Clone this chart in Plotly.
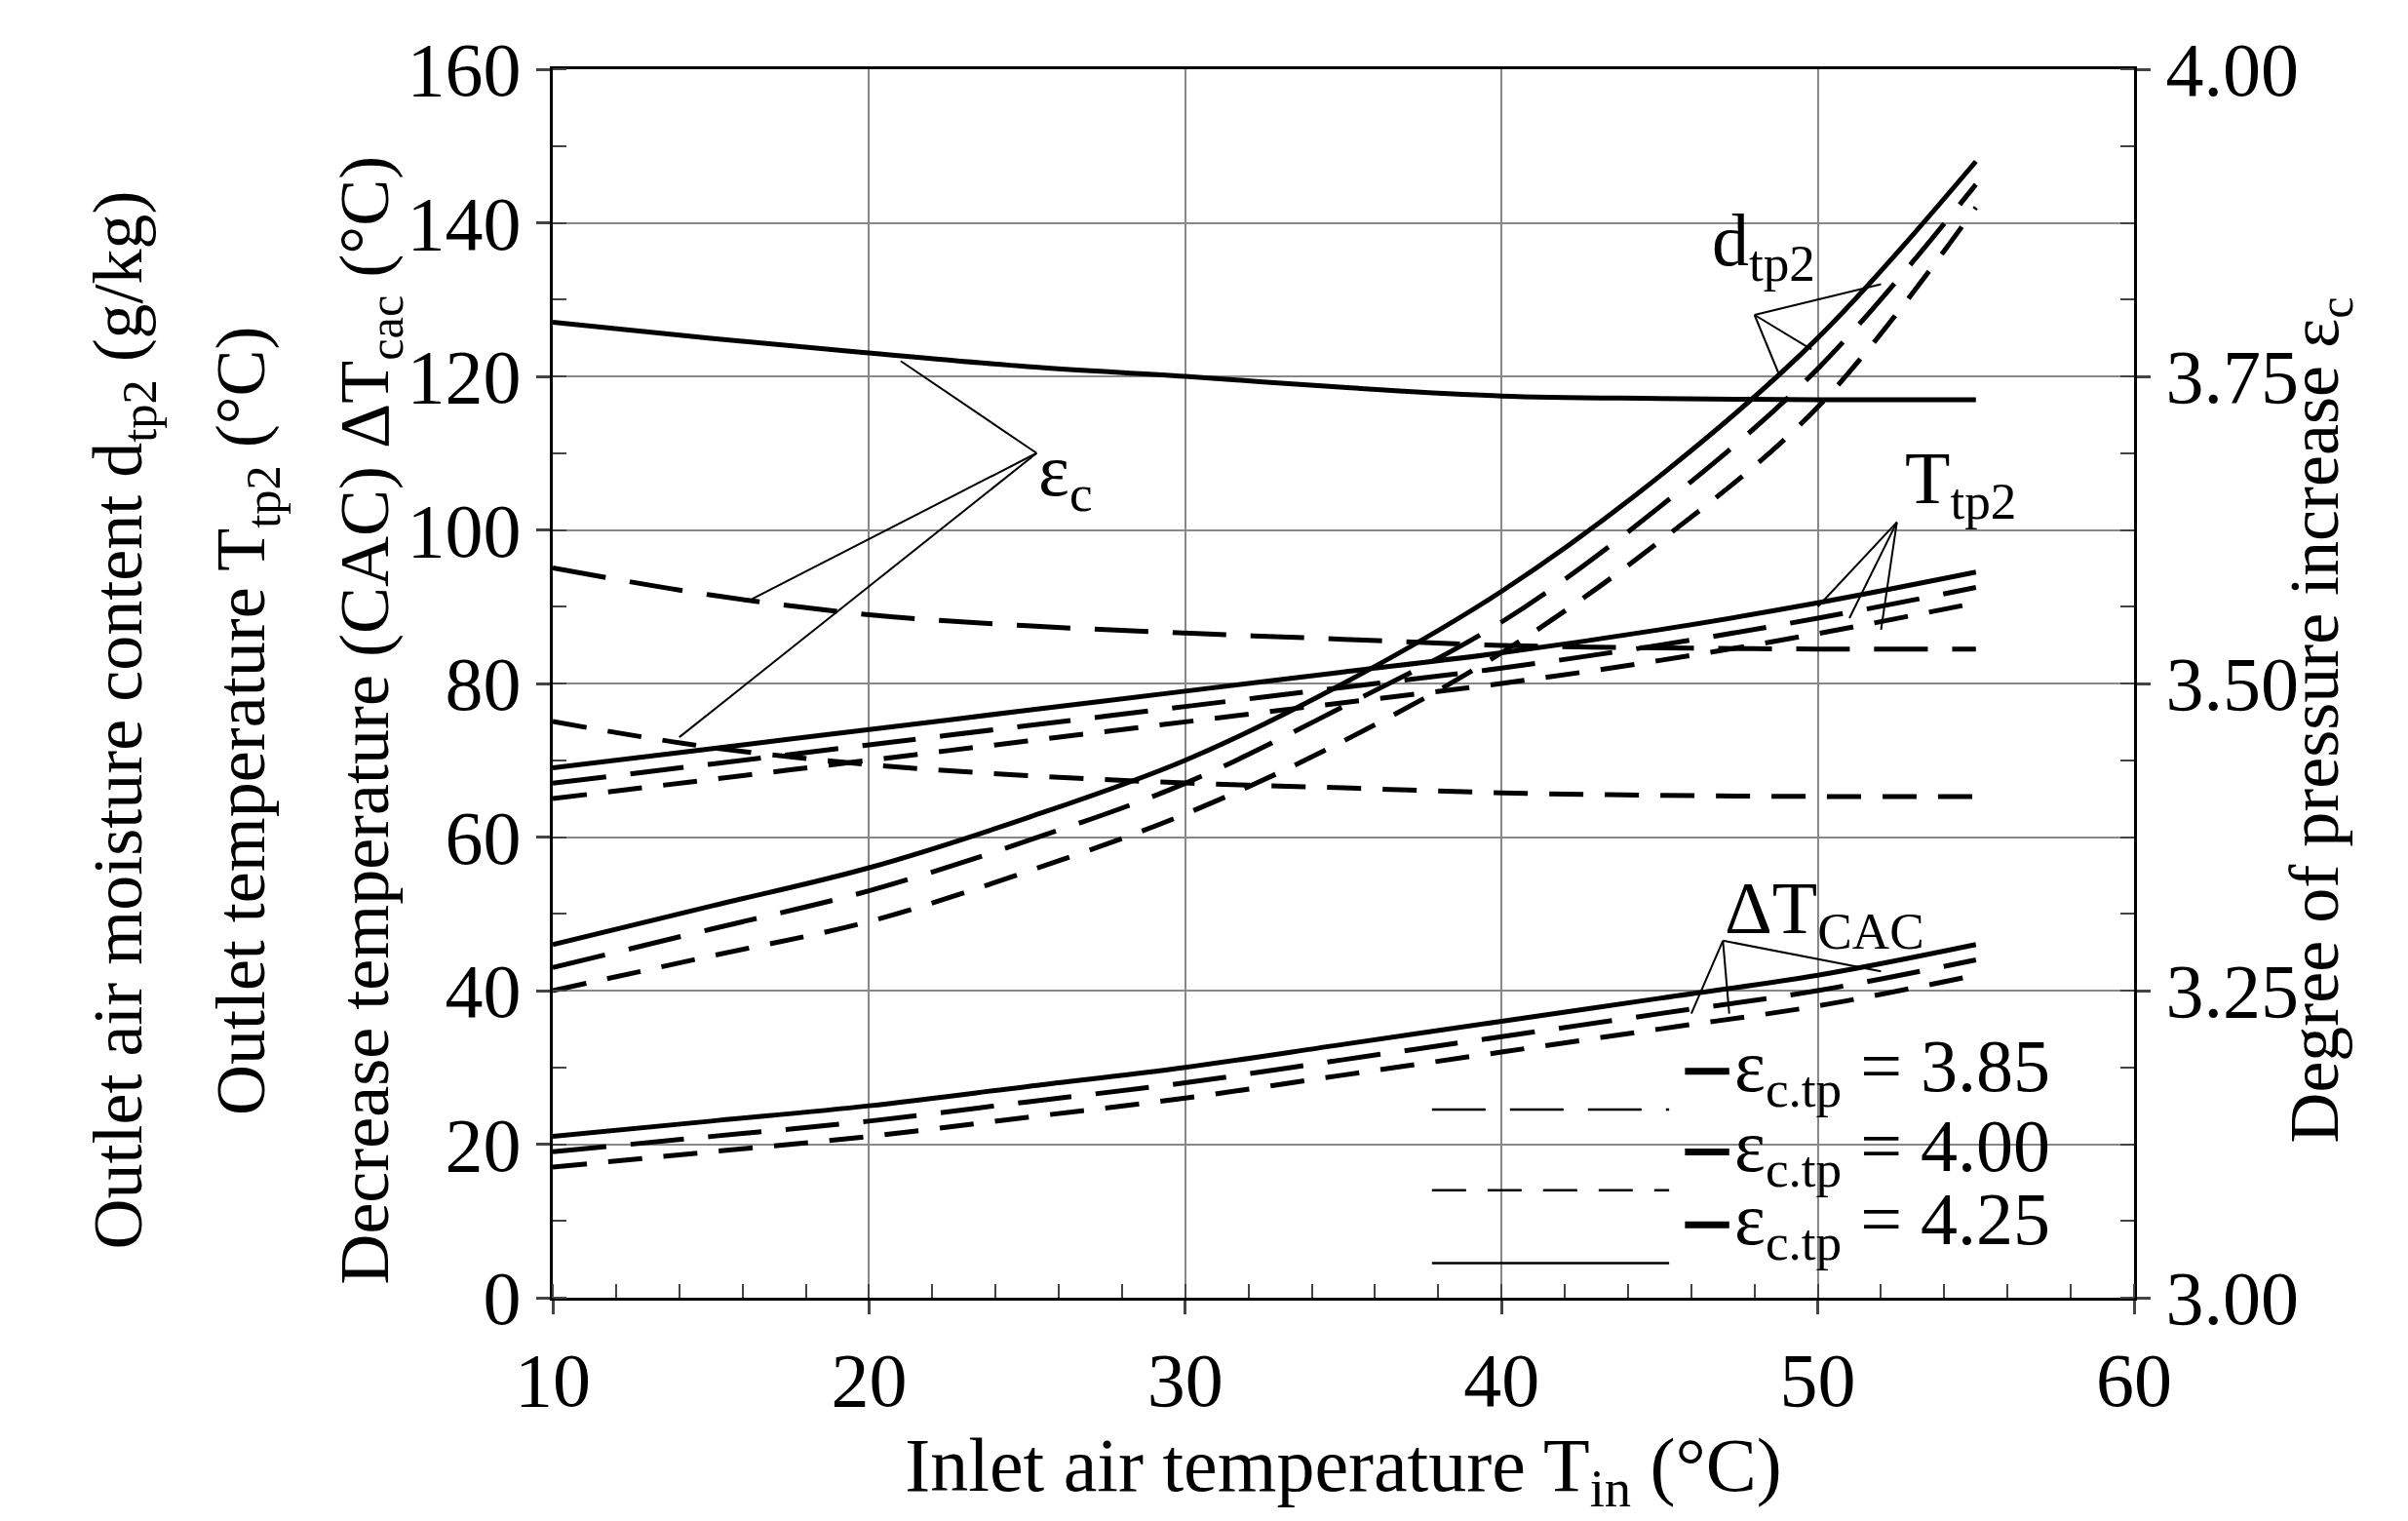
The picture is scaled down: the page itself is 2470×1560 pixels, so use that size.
import plotly.graph_objects as go

T_in = [10, 15, 20, 25, 30, 35, 40, 45, 50, 55]
# d_tp2 (g/kg)
d_425 = [46, 51, 56, 62.5, 70, 80, 92, 107, 125, 148]
d_385 = [43, 48, 53, 59.5, 67, 77, 88, 103, 121, 145]
d_400 = [40, 44.5, 49, 55.5, 63, 72.5, 84, 98.5, 116, 142]
# T_tp2 (C)
t_425 = [69, 71.5, 74, 76.5, 79, 81.5, 84, 87, 90.5, 94.5]
t_385 = [67, 69.5, 72, 74.5, 77, 79.5, 82, 85, 88.5, 92.5]
t_400 = [65, 67.5, 70, 72.5, 75, 77.5, 80, 83, 86.5, 90.5]
# dT_CAC (C)
c_425 = [21, 23, 25, 27.5, 30, 33, 36, 39, 42, 46]
c_385 = [19, 21, 23, 25.5, 28, 31, 34, 37, 40, 44]
c_400 = [17, 19, 21, 23.5, 26, 29, 32, 35, 38, 42]
# eps_c (right axis)
e_425 = [3.794, 3.781, 3.769, 3.758, 3.750, 3.741, 3.734, 3.732, 3.731, 3.731]
e_385 = [3.594, 3.572, 3.556, 3.547, 3.541, 3.536, 3.531, 3.529, 3.528, 3.528]
e_400 = [3.469, 3.448, 3.434, 3.425, 3.419, 3.415, 3.411, 3.409, 3.408, 3.408]

styles = {"425": "solid", "385": "55px,25px", "400": "35px,22px"}
FONT = "Liberation Serif"
fig = go.Figure()
def add(y, key, axis="y"):
    fig.add_trace(go.Scatter(x=T_in, y=y, mode="lines", yaxis=axis, showlegend=False,
                             line=dict(color="black", width=5, dash=styles[key], shape="spline")))
for y, k in [(d_425, "425"), (d_385, "385"), (d_400, "400"),
             (t_425, "425"), (t_385, "385"), (t_400, "400"),
             (c_425, "425"), (c_385, "385"), (c_400, "400")]:
    add(y, k)
for y, k in [(e_425, "425"), (e_385, "385"), (e_400, "400")]:
    add(y, k, "y2")

LF = 76
def leader(x0, y0, targets):
    for (x1, y1) in targets:
        fig.add_shape(type="line", x0=x0, y0=y0, x1=x1, y1=y1, xref="x", yref="y",
                      line=dict(color="black", width=2))
leader(25.3, 110, [(21, 122), (16.3, 91), (14, 73)])
fig.add_annotation(x=25.3, y=107, text="ε<sub>c</sub>", showarrow=False, xanchor="left",
                   font=dict(size=LF, family=FONT, color="black"))
leader(48, 128, [(52, 132), (49.8, 123.5), (48.8, 120)])
fig.add_annotation(x=48.3, y=137, text="d<sub>tp2</sub>", showarrow=False,
                   font=dict(size=LF, family=FONT, color="black"))
leader(52.5, 101, [(50, 90), (51, 88.5), (52, 87)])
fig.add_annotation(x=54.5, y=106, text="T<sub>tp2</sub>", showarrow=False,
                   font=dict(size=LF, family=FONT, color="black"))
leader(47, 46.5, [(52, 42.5), (46, 37), (47.2, 37)])
fig.add_annotation(x=50.2, y=50, text="ΔT<sub>CAC</sub>", showarrow=False,
                   font=dict(size=LF, family=FONT, color="black"))

# legend
leg = [("385", "55px,25px", 3.85, 24.5), ("400", "35px,22px", 4.00, 14), ("425", "solid", 4.25, 4.5)]
for key, d, val, yy in leg:
    fig.add_shape(type="line", x0=37.8, x1=45.3, y0=yy, y1=yy, xref="x", yref="y",
                  line=dict(color="black", width=2.5, dash=d))
    fig.add_shape(type="line", x0=45.8, x1=47.2, y0=yy + 5, y1=yy + 5, xref="x", yref="y",
                  line=dict(color="black", width=7))
    fig.add_annotation(x=47.3, y=yy + 5, text="ε<sub>c.tp</sub> = %.2f" % val, showarrow=False,
                       xanchor="left", font=dict(size=LF, family=FONT, color="black"))

axfont = dict(size=78, family=FONT, color="black")
fig.update_layout(
    width=2470, height=1560, paper_bgcolor="white", plot_bgcolor="white",
    margin=dict(l=559, r=289, t=63, b=237),
    xaxis=dict(range=[10, 60], dtick=10, tickfont=axfont, showgrid=True, gridcolor="#888", gridwidth=2,
               showline=True, linecolor="black", linewidth=3, mirror=True, ticks="outside",
               ticklen=14, tickwidth=3, minor=dict(dtick=2, ticks="inside", ticklen=14, tickwidth=2),
               title=dict(text="Inlet air temperature T<sub>in</sub> (°C)", font=axfont, standoff=5)),
    yaxis=dict(range=[0, 160], dtick=20, tickfont=axfont, showgrid=True, gridcolor="#888", gridwidth=2,
               showline=True, linecolor="black", linewidth=3, ticks="outside", ticklen=14, tickwidth=3,
               minor=dict(dtick=10, ticks="inside", ticklen=14, tickwidth=2)),
    yaxis2=dict(range=[3.0, 4.0], dtick=0.25, tickformat=".2f", overlaying="y", side="right",
                tickfont=axfont, showgrid=False, showline=True, linecolor="black", linewidth=3,
                ticks="outside", ticklen=14, tickwidth=3,
                minor=dict(dtick=0.0625, ticks="inside", ticklen=14, tickwidth=2)),
)
titles = [(-0.301, "Outlet air moisture content d<sub>tp2</sub> (g/kg)"),
          (-0.223, "Outlet temperature T<sub>tp2</sub> (°C)"),
          (-0.145, "Decrease temperature (CAC) ΔT<sub>cac</sub> (°C)"),
          (1.146, "Degree of pressure increase ε<sub>c</sub>")]
for xp, t in titles:
    fig.add_annotation(x=xp, y=0.47, xref="paper", yref="paper", text=t, textangle=-90,
                       showarrow=False, font=dict(size=72, family=FONT, color="black"))
fig.write_html("out.html")
